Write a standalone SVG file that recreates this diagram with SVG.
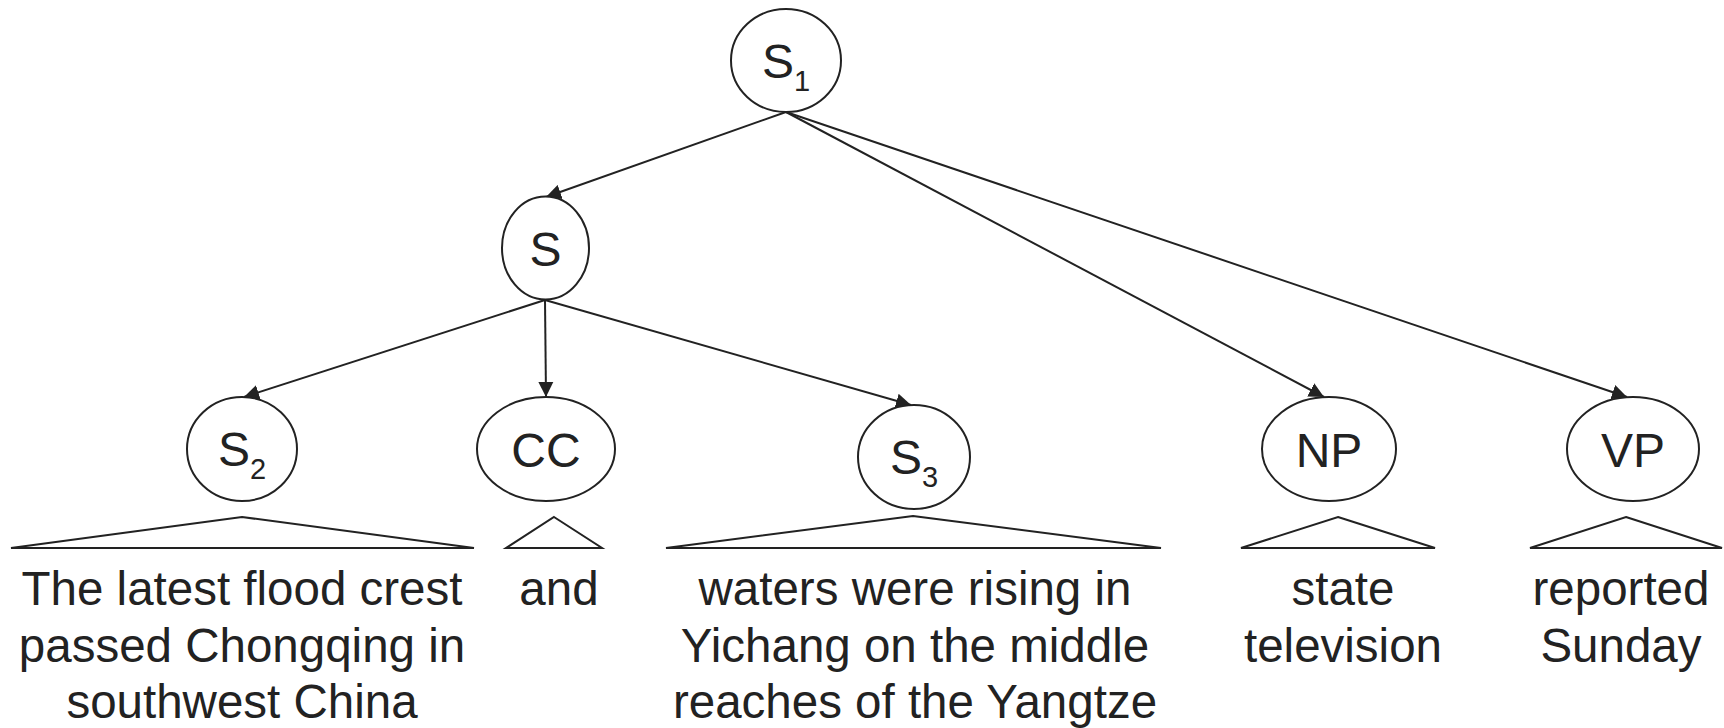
<svg xmlns="http://www.w3.org/2000/svg" width="1724" height="728" viewBox="0 0 1724 728">
<style>
.node ellipse{fill:#fff;stroke:#222;stroke-width:2}
.lbl{font-family:"Liberation Sans",Arial,sans-serif;font-size:48px;fill:#222;text-anchor:middle}
.sub{font-size:29px}
.leaf{font-family:"Liberation Sans",Arial,sans-serif;font-size:47.5px;fill:#222;text-anchor:middle}
.tri{fill:#fff;stroke:#222;stroke-width:2;stroke-linejoin:miter}
.edge{stroke:#222;stroke-width:2;fill:none;marker-end:url(#arr)}
</style>
<defs>
<marker id="arr" markerUnits="userSpaceOnUse" markerWidth="16" markerHeight="16" viewBox="0 0 16 16" refX="15" refY="8" orient="auto">
<path d="M0,0.5 L15,8 L0,15.5 Z" fill="#222"/>
</marker>
</defs>
<rect width="1724" height="728" fill="#fff"/>
<g id="connectors">
<line class="edge" x1="786" y1="112" x2="546" y2="197"/>
<line class="edge" x1="786" y1="112" x2="1324" y2="397"/>
<line class="edge" x1="786" y1="112" x2="1627" y2="397"/>
<line class="edge" x1="545" y1="300" x2="244" y2="397"/>
<line class="edge" x1="545" y1="300" x2="546" y2="397"/>
<line class="edge" x1="545" y1="300" x2="911" y2="405"/>
</g>
<g id="S1" class="node">
<ellipse cx="786" cy="60.5" rx="55" ry="51.5"/>
<text class="lbl" x="786" y="78">S<tspan class="sub" dy="13">1</tspan></text>
</g>
<g id="S" class="node">
<ellipse cx="545.5" cy="248" rx="43.5" ry="51.5"/>
<text class="lbl" x="545.5" y="266">S</text>
</g>
<g id="S2" class="node">
<ellipse cx="242" cy="449" rx="55" ry="52"/>
<text class="lbl" x="242" y="466">S<tspan class="sub" dy="13">2</tspan></text>
<polygon class="tri" points="242,517 474,548 11,548"/>
<text class="leaf" x="242" y="605">The latest flood crest</text>
<text class="leaf" x="242" y="662">passed Chongqing in</text>
<text class="leaf" x="242" y="718">southwest China</text>
</g>
<g id="CC" class="node">
<ellipse cx="546" cy="449" rx="69" ry="52"/>
<text class="lbl" x="546" y="467">CC</text>
<polygon class="tri" points="554,517 602,548 506,548"/>
<text class="leaf" x="559" y="605">and</text>
</g>
<g id="S3" class="node">
<ellipse cx="914" cy="457" rx="56" ry="52"/>
<text class="lbl" x="914" y="474">S<tspan class="sub" dy="13">3</tspan></text>
<polygon class="tri" points="913,516 1161,548 666,548"/>
<text class="leaf" x="915" y="605">waters were rising in</text>
<text class="leaf" x="915" y="662">Yichang on the middle</text>
<text class="leaf" x="915" y="718">reaches of the Yangtze</text>
</g>
<g id="NP" class="node">
<ellipse cx="1329" cy="449" rx="67" ry="52"/>
<text class="lbl" x="1329" y="467">NP</text>
<polygon class="tri" points="1338,517 1435,548 1241,548"/>
<text class="leaf" x="1343" y="605">state</text>
<text class="leaf" x="1343" y="662">television</text>
</g>
<g id="VP" class="node">
<ellipse cx="1633" cy="449" rx="66" ry="52"/>
<text class="lbl" x="1633" y="467">VP</text>
<polygon class="tri" points="1626,517 1722,548 1530,548"/>
<text class="leaf" x="1621" y="605">reported</text>
<text class="leaf" x="1621" y="662">Sunday</text>
</g>
</svg>
